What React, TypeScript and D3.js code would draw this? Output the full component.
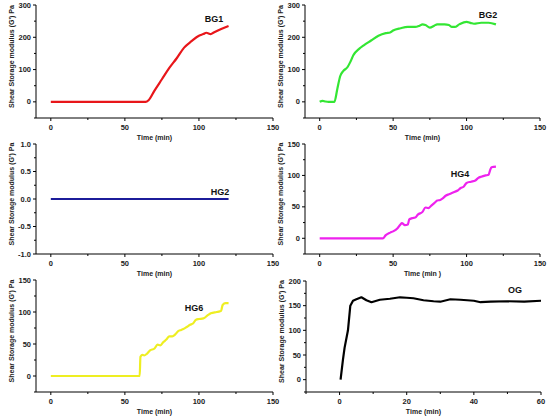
import * as d3 from "d3";

// time (min) / storage modulus G' (Pa)
const bg1Time = [0, 20, 40, 64, 66, 70, 75, 80, 85, 90, 95, 100, 103, 105, 108, 110, 115, 120];
const bg1Value = [0, 0, 0, 0, 5, 35, 70, 105, 135, 168, 188, 205, 210, 214, 210, 215, 226, 235];

const bg2Time = [0, 2, 4, 6, 10, 12, 14, 16, 19, 21, 23, 27, 30, 35, 40, 45, 48, 50, 55, 60, 65, 68, 70, 72, 75, 78, 80, 85, 88, 90, 92, 95, 100, 103, 105, 110, 115, 120];
const bg2Value = [0, 3, 1, 0, 0, 40, 80, 95, 108, 125, 145, 165, 175, 190, 205, 213, 215, 221, 228, 232, 232, 236, 240, 238, 230, 236, 240, 240, 238, 232, 232, 240, 248, 244, 242, 245, 245, 240];

const hg2Time = [0, 30, 60, 90, 120];
const hg2Value = [0, 0, 0, 0, 0];

const hg4Time = [0, 20, 43, 45, 48, 50, 53, 55, 56, 58, 60, 61, 63, 65, 67, 70, 72, 74, 76, 78, 80, 82, 84, 86, 88, 90, 92, 94, 96, 98, 100, 103, 106, 108, 110, 113, 115, 116, 117, 120];
const hg4Value = [0, 0, 0, 5, 9, 11, 16, 22, 24, 21, 22, 30, 32, 33, 38, 42, 49, 48, 52, 56, 60, 61, 64, 68, 70, 72, 74, 76, 80, 82, 88, 90, 92, 96, 98, 100, 101, 108, 113, 114];

const hg6Time = [0, 30, 60, 60.5, 62, 63, 65, 67, 70, 72, 74, 76, 78, 80, 82, 84, 86, 88, 90, 92, 94, 96, 98, 100, 103, 106, 108, 112, 114, 115, 116, 118, 120];
const hg6Value = [0, 0, 0, 30, 33, 32, 35, 40, 43, 49, 48, 53, 57, 62, 62, 65, 70, 72, 74, 77, 80, 82, 88, 89, 90, 95, 98, 100, 101, 102, 111, 114, 114];

const ogTime = [0.3, 1, 1.5, 2.5, 3.2, 4, 5, 6.5, 8, 9.5, 12, 15, 18, 20, 22, 25, 28, 30, 33, 36, 40, 42, 45, 50, 55, 60];
const ogValue = [0, 40, 65, 100, 150, 160, 163, 167, 161, 157, 162, 164, 167, 166, 165, 161, 159, 158, 163, 162, 160, 157, 158, 159, 158, 160];

const xTicks150 = [0, 50, 100, 150];
const xTicks60 = [0, 20, 40, 60];
const yTicks300 = [0, 100, 200, 300];
const yTicksUnit = [-1.0, -0.5, 0.0, 0.5, 1.0];
const yTicks150 = [0, 50, 100, 150];
const yTicks200 = [0, 50, 100, 150, 200];

interface PanelProps {
  label: string;
  color: string;
  time: number[];
  value: number[];
  xDomain: [number, number];
  xRange: [number, number];
  yDomain: [number, number];
  yRange: [number, number];
  xTicks: number[];
  yTicks: number[];
  yFormat?: (v: number) => string;
  xTitle: string;
  labelPos: [number, number];
  curve?: d3.CurveFactory;
}

const font = "Arial, 'Liberation Sans', sans-serif";

const Panel = (p: PanelProps) => {
  const x = d3.scaleLinear().domain(p.xDomain).range(p.xRange);
  const y = d3.scaleLinear().domain(p.yDomain).range(p.yRange);
  const pts = p.time.map((t, i) => [t, p.value[i]] as [number, number]);
  const line = d3
    .line<[number, number]>()
    .x((d) => x(d[0]))
    .y((d) => y(d[1]))
    .curve(p.curve ?? d3.curveMonotoneX);

  // minor ticks halfway between major ones
  const xStep = p.xTicks[1] - p.xTicks[0];
  const yStep = p.yTicks[1] - p.yTicks[0];
  const xMinor = d3.range(p.xTicks[0] - xStep / 2, p.xDomain[1], xStep).filter((v) => v >= p.xDomain[0]);
  const yMinor = d3.range(p.yTicks[0] - yStep / 2, p.yDomain[1], yStep).filter((v) => v >= p.yDomain[0]);
  const fmt = p.yFormat ?? ((v: number) => String(v));
  const bottom = p.yRange[0];
  const left = p.xRange[0];

  return (
    <g fontFamily={font} fontWeight="bold">
      <line x1={left} x2={p.xRange[1]} y1={bottom} y2={bottom} stroke="#000" strokeWidth={1} />
      <line x1={left} x2={left} y1={p.yRange[1]} y2={bottom} stroke="#000" strokeWidth={1} />
      {p.xTicks.map((t) => (
        <g key={"xt" + t}>
          <line x1={x(t)} x2={x(t)} y1={bottom} y2={bottom + 3} stroke="#000" />
          <text x={x(t)} y={bottom + 12} fontSize={7.5} textAnchor="middle" fill="#222">
            {t}
          </text>
        </g>
      ))}
      {xMinor.map((t) => (
        <line key={"xm" + t} x1={x(t)} x2={x(t)} y1={bottom} y2={bottom + 2} stroke="#000" />
      ))}
      {p.yTicks.map((t) => (
        <g key={"yt" + t}>
          <line x1={left - 3} x2={left} y1={y(t)} y2={y(t)} stroke="#000" />
          <text x={left - 5} y={y(t) + 2.6} fontSize={7.5} textAnchor="end" fill="#222">
            {fmt(t)}
          </text>
        </g>
      ))}
      {yMinor.map((t) => (
        <line key={"ym" + t} x1={left - 2} x2={left} y1={y(t)} y2={y(t)} stroke="#000" />
      ))}
      <text
        transform={`translate(${left - 22},${(p.yRange[0] + p.yRange[1]) / 2 - 5}) rotate(-90)`}
        fontSize={7}
        textAnchor="middle"
        fill="#222"
      >
        Shear Storage modulus (G') Pa
      </text>
      <text x={(p.xRange[0] + p.xRange[1]) / 2} y={bottom + 22} fontSize={7} textAnchor="middle" fill="#222">
        {p.xTitle}
      </text>
      <path d={line(pts) ?? ""} fill="none" stroke={p.color} strokeWidth={2.2} strokeLinejoin="round" />
      <text x={p.labelPos[0]} y={p.labelPos[1]} fontSize={9} textAnchor="middle" fill="#111">
        {p.label}
      </text>
    </g>
  );
};

const App = () => (
  <svg
    width={550}
    height={418}
    style={{ position: "absolute", left: 0, top: 0, background: "#fff" }}
  >
    <Panel label="BG1" color="#e8161a" time={bg1Time} value={bg1Value}
      xDomain={[-10, 150]} xRange={[36, 273]} yDomain={[-50, 300]} yRange={[118, 5]}
      xTicks={xTicks150} yTicks={yTicks300} xTitle="Time (min)" labelPos={[214, 22]} />
    <Panel label="BG2" color="#33e633" time={bg2Time} value={bg2Value}
      xDomain={[-10, 150]} xRange={[305, 540]} yDomain={[-50, 300]} yRange={[118, 5]}
      xTicks={xTicks150} yTicks={yTicks300} xTitle="Time (min)" labelPos={[488, 18]} />
    <Panel label="HG2" color="#1c1c9a" time={hg2Time} value={hg2Value}
      xDomain={[-10, 150]} xRange={[36, 273]} yDomain={[-1, 1]} yRange={[254, 144]}
      xTicks={xTicks150} yTicks={yTicksUnit} yFormat={(v) => v.toFixed(1)} xTitle="Time (min)"
      labelPos={[220, 195]} curve={d3.curveLinear} />
    <Panel label="HG4" color="#ee22ee" time={hg4Time} value={hg4Value}
      xDomain={[-10, 150]} xRange={[305, 540]} yDomain={[-25, 150]} yRange={[254, 144]}
      xTicks={xTicks150} yTicks={yTicks150} xTitle="Time (min )" labelPos={[460, 177]} />
    <Panel label="HG6" color="#eeee22" time={hg6Time} value={hg6Value}
      xDomain={[-10, 150]} xRange={[36, 273]} yDomain={[-25, 150]} yRange={[392, 280]}
      xTicks={xTicks150} yTicks={yTicks150} xTitle="Time (min)" labelPos={[194, 311]} />
    <Panel label="OG" color="#000000" time={ogTime} value={ogValue}
      xDomain={[-10, 60]} xRange={[306, 541]} yDomain={[-25, 200]} yRange={[392, 281]}
      xTicks={xTicks60} yTicks={yTicks200} xTitle="Time (min)" labelPos={[515, 293]}
      curve={d3.curveLinear} />
  </svg>
);

export default App;
